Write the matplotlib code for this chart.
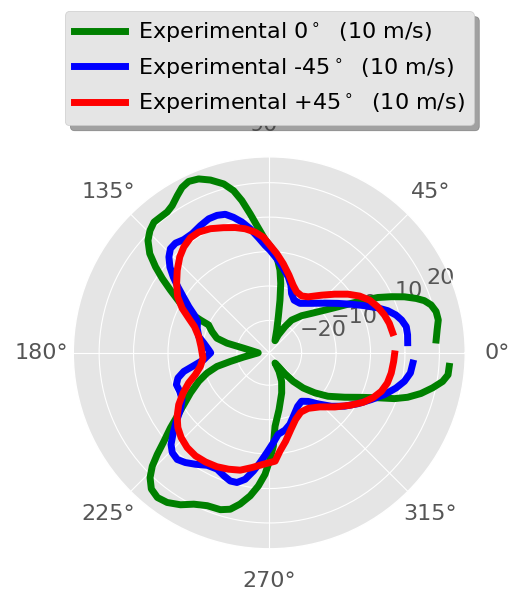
import numpy as np
import matplotlib
matplotlib.use("Agg")
import matplotlib.pyplot as plt

plt.style.use("ggplot")
plt.rcParams['font.size'] = 16

# measured profiles: angle (deg) and value
theta_0 = [4.4, 7.8, 11.0, 13.9, 16.5, 18.6, 20.3, 22.5, 24.7, 27.0, 29.0, 31.1, 33.8,
           37.6, 43.0, 48.9, 55.7, 59.0, 63.2, 64.8, 71.9, 75.9, 78.5, 80.6, 82.6,
           84.8, 87.7, 90.5, 92.1, 95.6, 97.8, 100.2, 102.4, 105.1, 108.8, 112.1,
           115.2, 117.8, 120.3, 123.4, 125.9, 128.7, 131.4, 134.3, 137.2, 140.3,
           142.9, 145.2, 147.6, 150.9, 153.4, 154.5, 155.3, 159.7, 164.4, 167.1,
           169.7, 172.6, 180.0, 186.7, 189.4, 192.5, 194.6, 198.0, 202.0, 207.0,
           211.2, 214.6, 217.2, 220.0, 222.2, 224.1, 226.3, 229.1, 232.3, 235.7,
           239.7, 243.5, 247.9, 252.7, 256.0, 259.1, 262.4, 265.3, 268.0, 270.4,
           272.5, 274.5, 279.8, 287.2, 293.5, 297.7, 299.4, 303.6, 306.9, 310.0,
           314.0, 318.7, 323.5, 329.5, 334.2, 337.5, 339.9, 342.2, 345.0, 347.9,
           350.6, 353.0, 355.7]
r_0 = [19.2, 19.8, 20.6, 20.5, 19.6, 18.1, 16.1, 13.1, 9.6, 6.0, 2.2, -1.6, -5.4,
       -9.1, -12.6, -15.1, -17.9, -20.5, -23.6, -25.5, -22.4, -18.6, -13.8, -9.0, -5.2,
       -2.4, 0.4, 2.3, 3.5, 7.8, 11.3, 15.5, 18.8, 21.4, 23.6, 25.1,
       25.6, 24.9, 23.5, 21.8, 21.1, 21.1, 21.2, 20.2, 18.6, 15.7,
       12.0, 8.4, 4.6, 0.1, -3.8, -7.2, -10.0, -11.7, -13.6, -16.8,
       -21.8, -24.0, -26.2, -24.0, -21.8, -17.8, -13.7, -10.4, -7.3, -3.7,
       -0.4, 3.1, 6.6, 10.5, 14.5, 17.9, 20.7, 22.9, 23.7, 23.2,
       21.7, 19.7, 18.5, 18.3, 17.4, 15.3, 12.5, 9.4, 5.9, 1.5,
       -2.3, -8.0, -12.7, -17.2, -20.4, -23.3, -26.0, -24.7, -21.8, -18.6,
       -15.2, -11.8, -8.2, -4.0, 0.3, 4.7, 9.3, 12.8, 16.2, 19.1,
       21.6, 22.9, 23.0]

theta_m45 = [4.2, 7.4, 10.8, 13.9, 16.6, 19.6, 22.5, 26.3, 30.6, 35.7, 41.9, 49.5,
             58.2, 64.7, 69.4, 72.2, 75.9, 80.5, 85.5, 89.6, 92.2, 95.4, 98.8, 101.8,
             104.8, 107.6, 110.8, 114.3, 118.4, 122.9, 127.1, 130.5, 133.5, 136.3,
             139.2, 141.7, 144.2, 146.9, 150.2, 153.2, 156.5, 161.2, 167.1, 171.6,
             177.2, 180.0, 186.1, 189.7, 192.3, 195.4, 198.9, 203.3, 208.2, 212.6,
             216.4, 219.8, 223.0, 225.8, 229.2, 232.6, 236.5, 241.1, 245.8, 249.9,
             253.1, 256.0, 259.2, 262.4, 265.2, 268.6, 272.6, 276.3, 281.5, 286.1,
             292.0, 297.9, 303.7, 308.8, 313.7, 319.3, 324.7, 330.2, 335.4, 340.1,
             344.5, 348.1, 351.9, 355.9]
r_m45 = [10.9, 11.1, 11.1, 10.2, 9.0, 7.1, 4.7, 1.5, -1.7, -4.8, -7.8, -10.5,
         -12.5, -12.5, -11.0, -8.8, -6.7, -4.6, -1.9, 0.4, 1.8, 4.2, 7.1, 9.4,
         11.3, 12.8, 13.3, 13.3, 12.6, 11.8, 11.8, 12.5, 12.3, 10.9,
         8.7, 6.1, 3.3, 0.4, -2.5, -5.0, -6.7, -7.3, -8.4, -10.2,
         -11.8, -12.4, -10.2, -7.1, -4.0, -1.9, -0.9, -1.1, -0.7, 1.2,
         4.1, 6.9, 9.6, 11.0, 11.5, 10.7, 9.4, 7.9, 7.6, 8.7,
         9.5, 9.4, 8.0, 5.2, 2.6, -0.4, -3.3, -5.6, -6.5, -7.8,
         -10.1, -11.8, -12.5, -11.3, -8.9, -5.6, -2.6, 0.3, 3.2, 6.2,
         8.8, 10.7, 12.0, 12.4]

theta_p45 = [9.3, 13.8, 18.2, 23.0, 27.7, 32.1, 36.7, 41.9, 47.8, 55.2, 60.3, 65.8,
             70.5, 75.8, 81.1, 85.7, 89.6, 92.9, 96.7, 101.0, 105.2, 110.1, 115.4,
             120.3, 124.4, 128.9, 133.0, 138.1, 143.2, 148.5, 152.9, 156.8, 160.7,
             167.1, 174.7, 180.0, 184.6, 191.2, 196.5, 200.5, 205.0, 209.8, 214.6,
             219.3, 223.9, 229.1, 234.4, 239.7, 245.3, 250.7, 256.1, 261.4, 267.0,
             273.1, 276.2, 280.5, 285.8, 291.6, 298.0, 305.1, 313.1, 320.5, 326.9,
             332.2, 336.5, 341.0, 345.7, 350.6, 356.0, 359.5]
r_p45 = [6.9, 6.5, 5.8, 4.8, 3.5, 1.6, -0.9, -3.9, -6.8, -9.6, -10.4, -10.0,
         -8.6, -6.1, -3.2, -0.5, 1.8, 4.2, 5.9, 7.3, 8.3, 9.3, 10.5,
         11.2, 11.1, 10.1, 8.7, 6.5, 4.2, 1.8, -1.0, -4.0, -6.4,
         -8.4, -9.5, -9.9, -10.1, -9.0, -7.0, -4.4, -1.8, 0.9, 3.1,
         4.9, 6.1, 7.0, 7.4, 7.3, 7.0, 6.4, 5.7, 4.3, 3.0,
         2.1, -0.7, -3.3, -6.3, -8.6, -9.9, -9.7, -7.9, -4.7, -1.5,
         1.4, 3.4, 5.0, 6.0, 6.5, 6.8, 7.0]

fig = plt.figure(figsize=(5.09, 5.96), dpi=100)
ax = fig.add_axes([0.144, 0.079, 0.770, 0.658], projection='polar')

ax.plot(np.radians(theta_0), r_0, color='green', lw=5, label=r'Experimental 0$^\circ$  (10 m/s)')
ax.plot(np.radians(theta_m45), r_m45, color='blue', lw=5, label=r'Experimental -45$^\circ$  (10 m/s)')
ax.plot(np.radians(theta_p45), r_p45, color='red', lw=5, label=r'Experimental +45$^\circ$  (10 m/s)')

ax.set_rlim(-29.4, 27.5)
ax.set_rticks([-20, -10, 0, 10, 20])
ax.tick_params(axis='x', pad=12.5)

ax.legend(loc='upper center', bbox_to_anchor=(0.529, 1.0), bbox_transform=fig.transFigure,
          fontsize=16, handlelength=2.3, handletextpad=0.6, shadow={'ox': 4, 'oy': -4})

fig.savefig('out.png', dpi=100)
